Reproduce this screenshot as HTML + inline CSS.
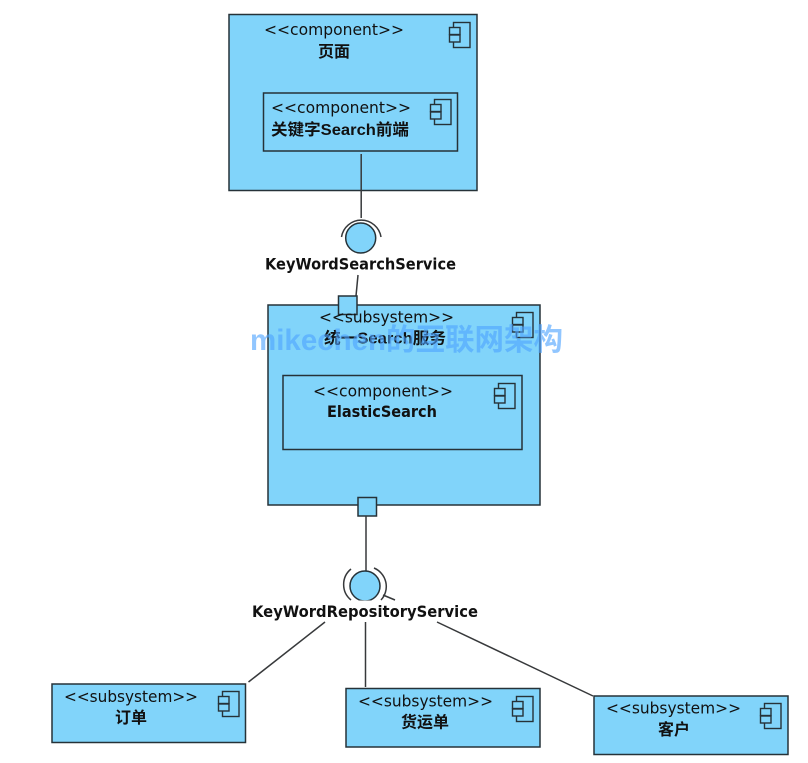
<!DOCTYPE html>
<html><head><meta charset="utf-8">
<style>
html,body{margin:0;padding:0;background:#fff;width:808px;height:763px;overflow:hidden}
svg{display:block;filter:blur(.35px)}
text{font-family:"DejaVu Sans","Noto Sans CJK SC",sans-serif;font-size:16px;fill:#111}
.b{font-weight:bold}
.c{font-family:"Liberation Sans","Noto Sans CJK SC",sans-serif;font-weight:bold;font-size:16px}
.box{fill:#81d4fa;stroke:#263238;stroke-width:1.5}
.ln{fill:none;stroke:#37393b;stroke-width:1.5}
.wm{font-family:"Liberation Sans","Noto Sans CJK SC",sans-serif;font-weight:bold;font-size:30px;fill:#4da3ff;fill-opacity:.62}
</style></head><body>
<svg width="808" height="763" viewBox="0 0 808 763" xmlns="http://www.w3.org/2000/svg">
<defs>
<g id="ic" fill="#81d4fa" stroke="#263238" stroke-width="1.4">
<rect x="4.5" y="0.5" width="16.5" height="25"/>
<rect x="0.5" y="5.5" width="10.5" height="7"/>
<rect x="0.5" y="13" width="10.5" height="7"/>
</g>
</defs>

<!-- top component -->
<rect class="box" x="229" y="14.5" width="248" height="176"/>
<rect class="box" x="263.5" y="93" width="194" height="58"/>
<line class="ln" x1="361.2" y1="154" x2="361.2" y2="218"/>
<use href="#ic" x="449" y="22"/>
<use href="#ic" x="430" y="99"/>
<text x="264" y="35" textLength="140" lengthAdjust="spacingAndGlyphs">&lt;&lt;component&gt;&gt;</text>
<text class="c" x="318" y="57" textLength="32" lengthAdjust="spacingAndGlyphs">页面</text>
<text x="271" y="113" textLength="140" lengthAdjust="spacingAndGlyphs">&lt;&lt;component&gt;&gt;</text>
<text class="c" x="271" y="135" textLength="138" lengthAdjust="spacingAndGlyphs">关键字Search前端</text>

<!-- socket/ball 1 -->
<path class="ln" d="M341.5 237 A20 20 0 0 1 381 237"/>
<circle cx="360.7" cy="238" r="15" fill="#81d4fa" stroke="#263238" stroke-width="1.5"/>
<text class="b" x="265" y="269.5" textLength="191" lengthAdjust="spacingAndGlyphs">KeyWordSearchService</text>
<line class="ln" x1="358" y1="275" x2="356" y2="296"/>

<!-- middle subsystem -->
<rect class="box" x="268" y="305" width="272" height="200"/>
<rect class="box" x="338.5" y="296" width="18.5" height="18.5"/>
<rect class="box" x="283" y="375.5" width="239" height="74"/>
<rect class="box" x="358" y="497.5" width="18.5" height="18.5"/>
<use href="#ic" x="512" y="312"/>
<use href="#ic" x="494" y="383"/>
<text x="319" y="322.5" textLength="135" lengthAdjust="spacingAndGlyphs">&lt;&lt;subsystem&gt;&gt;</text>
<text class="c" x="324" y="343.5" textLength="122" lengthAdjust="spacingAndGlyphs">统一Search服务</text>
<text x="313" y="396.5" textLength="140" lengthAdjust="spacingAndGlyphs">&lt;&lt;component&gt;&gt;</text>
<text class="b" x="327" y="417" textLength="110" lengthAdjust="spacingAndGlyphs">ElasticSearch</text>

<!-- socket/ball 2 -->
<line class="ln" x1="366" y1="516" x2="366" y2="572"/>
<path class="ln" d="M351 569 A20 20 0 0 0 351 600"/>
<path class="ln" d="M374 568 A20 20 0 0 1 381 600"/>
<line class="ln" x1="383" y1="595" x2="395" y2="600"/>
<circle cx="365" cy="586" r="15" fill="#81d4fa" stroke="#263238" stroke-width="1.5"/>
<rect x="340" y="600.5" width="50" height="4" fill="#fff"/>
<text class="b" x="252" y="617" textLength="226" lengthAdjust="spacingAndGlyphs">KeyWordRepositoryService</text>
<line class="ln" x1="325" y1="622" x2="248.5" y2="682"/>
<line class="ln" x1="365.5" y1="622" x2="365.5" y2="687"/>
<line class="ln" x1="437" y1="622" x2="593" y2="696"/>

<!-- bottom subsystems -->
<rect class="box" x="52" y="684" width="193.5" height="58.5"/>
<use href="#ic" x="218" y="691"/>
<text x="64" y="702" textLength="134" lengthAdjust="spacingAndGlyphs">&lt;&lt;subsystem&gt;&gt;</text>
<text class="c" x="115" y="723" textLength="32" lengthAdjust="spacingAndGlyphs">订单</text>

<rect class="box" x="346" y="688.5" width="194" height="58.5"/>
<use href="#ic" x="512" y="696"/>
<text x="358" y="706.5" textLength="135" lengthAdjust="spacingAndGlyphs">&lt;&lt;subsystem&gt;&gt;</text>
<text class="c" x="401" y="727.5" textLength="48" lengthAdjust="spacingAndGlyphs">货运单</text>

<rect class="box" x="594" y="696" width="194" height="58.5"/>
<use href="#ic" x="760" y="703"/>
<text x="606" y="713.5" textLength="135" lengthAdjust="spacingAndGlyphs">&lt;&lt;subsystem&gt;&gt;</text>
<text class="c" x="658" y="735" textLength="32" lengthAdjust="spacingAndGlyphs">客户</text>

<!-- watermark -->
<text class="wm" x="250" y="350" textLength="313" lengthAdjust="spacingAndGlyphs">mikechen的互联网架构</text>
</svg>
</body></html>
